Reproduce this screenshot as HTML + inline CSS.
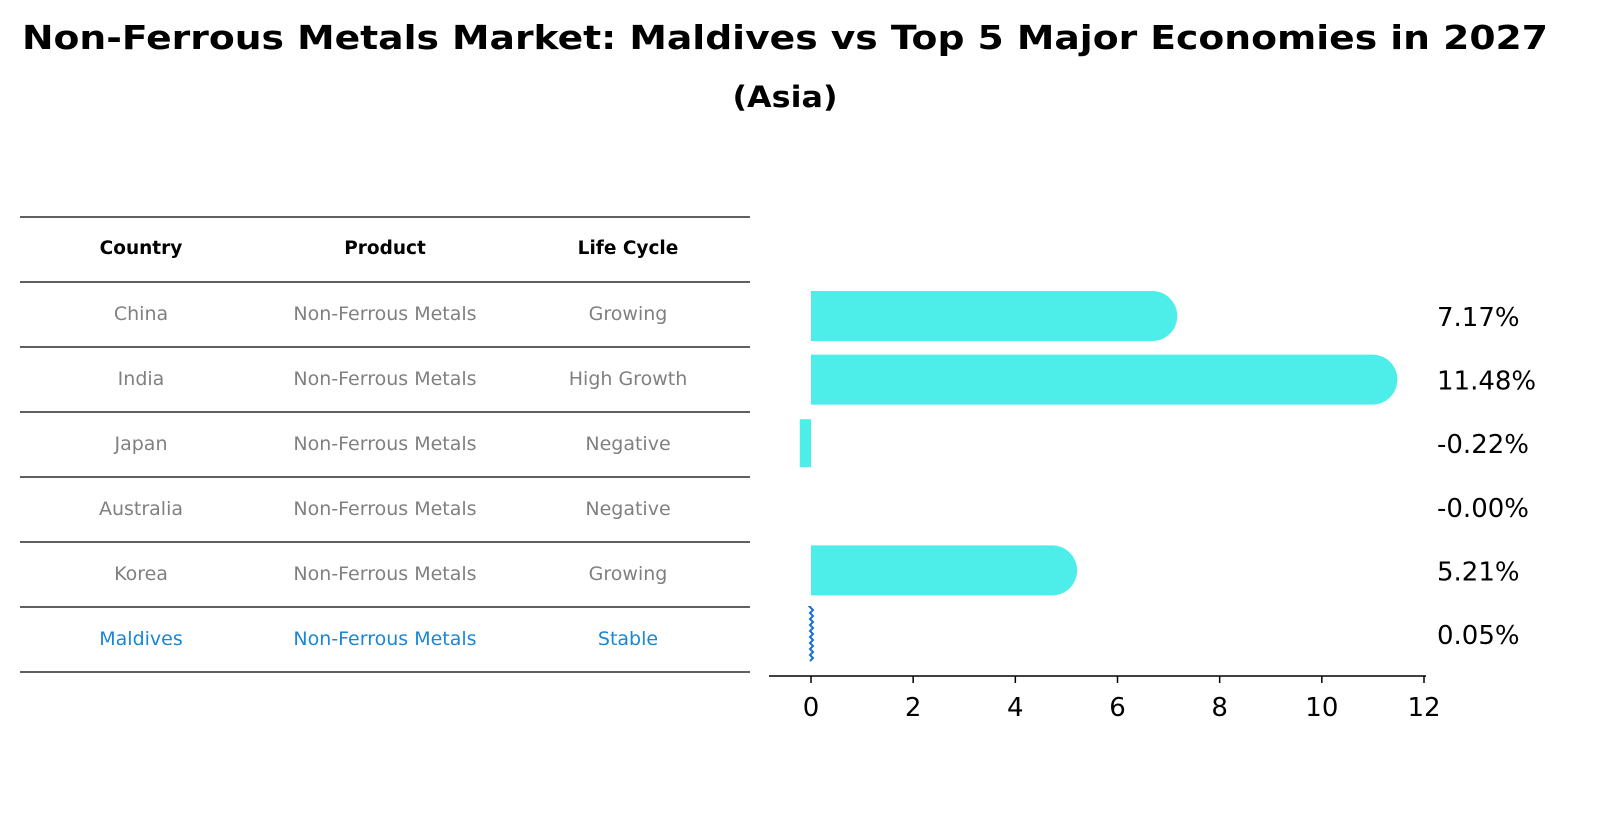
<!DOCTYPE html>
<html><head><meta charset="utf-8"><style>
body{margin:0;background:#fff;width:1614px;height:823px;overflow:hidden;font-family:"Liberation Sans","DejaVu Sans",sans-serif}
</style></head><body>
<svg width="1614" height="823" xmlns="http://www.w3.org/2000/svg" font-family="DejaVu Sans, Liberation Sans, sans-serif">
<text x="785" y="49" text-anchor="middle" font-size="33" font-weight="bold" textLength="1526" lengthAdjust="spacingAndGlyphs">Non-Ferrous Metals Market: Maldives vs Top 5 Major Economies in 2027</text>
<text x="785" y="107" text-anchor="middle" font-size="29" font-weight="bold" textLength="105" lengthAdjust="spacingAndGlyphs">(Asia)</text>
<g id="table"></g>
<g id="chart"></g>
</svg>
<script>
const countries=["China","India","Japan","Australia","Korea","Maldives"];
const products=["Non-Ferrous Metals","Non-Ferrous Metals","Non-Ferrous Metals","Non-Ferrous Metals","Non-Ferrous Metals","Non-Ferrous Metals"];
const lifecycle=["Growing","High Growth","Negative","Negative","Growing","Stable"];
const growth=[7.17,11.48,-0.22,-0.00,5.21,0.05];
const xTicks=[0,2,4,6,8,10,12];
const NS="http://www.w3.org/2000/svg";
function mk(t,a,p,txt){const e=document.createElementNS(NS,t);for(const k in a)e.setAttribute(k,a[k]);if(txt!==undefined)e.textContent=txt;p.appendChild(e);return e;}
const tb=document.getElementById('table');
const rowY=r=>217+r*65;
for(let i=0;i<=7;i++){const l=mk('line',{x1:20,x2:750,y1:rowY(i),y2:rowY(i),stroke:'#000','stroke-width':1.2},tb);

}
const colX=[141,385,628];
["Country","Product","Life Cycle"].forEach((h,j)=>{const t=mk('text',{x:colX[j],y:254,'text-anchor':'middle','font-size':18.5,'font-weight':'bold'},tb,h);

});
countries.forEach((c,i)=>{const col=c==="Maldives"?"#1a86d6":"#808080";const y=rowY(i+1)+38;
[c,products[i],lifecycle[i]].forEach((v,j)=>{const t=mk('text',{x:colX[j],y:y,'text-anchor':'middle','font-size':19,fill:col},tb,v);

});});
const ch=document.getElementById('chart');
const x0=811,ppu=(1424-811)/12;
const X=v=>x0+v*ppu;
const Yc=i=>316+i*63.6;
const bh=50;
growth.forEach((v,i)=>{const yc=Yc(i);
if(countries[i]==="Maldives"){
 let d=`M${X(0)} ${yc-27}`;for(let k=0;k<=18;k++){d+=` L${X(0)+(k%2?2:-1)} ${yc-27+k*3}`;}
 const p=mk('path',{d:d,fill:'none',stroke:'#1a6fd6','stroke-width':2},ch);
 
 
}else if(Math.abs(v)>0.001){
 const a=Math.min(X(0),X(v)),w=Math.abs(X(v)-X(0));let el;
 if(w>bh/2){const r=bh/2;const xe=X(v);
  el=mk('path',{d:`M${X(0)} ${yc-r} L${xe-r} ${yc-r} A${r} ${r} 0 0 1 ${xe-r} ${yc+r} L${X(0)} ${yc+r} Z`,fill:'#4deeea'},ch);
 }else{el=mk('rect',{x:a,y:yc-bh/2+1,width:w,height:bh-2,fill:'#4deeea'},ch);}
 
 
}
const neg=v<0||(v===0&&1/v<0);
const t=mk('text',{x:1437,y:yc+10,'font-size':26},ch,(neg?'-':'')+Math.abs(v).toFixed(2)+'%');


});
const ax=mk('line',{x1:769,x2:1426,y1:676,y2:676,stroke:'#000','stroke-width':1.5},ch);


xTicks.forEach(v=>{const l=mk('line',{x1:X(v),x2:X(v),y1:676,y2:683,stroke:'#000','stroke-width':1.5},ch);


const t=mk('text',{x:X(v),y:716,'text-anchor':'middle','font-size':26},ch,String(v));

});
</script>
</body></html>
